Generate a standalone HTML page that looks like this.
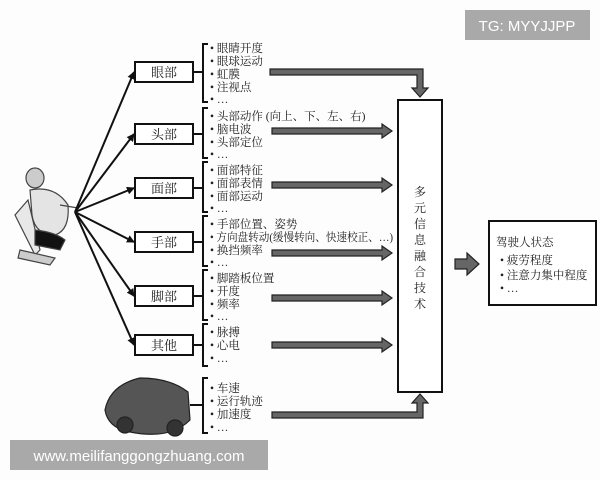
<!DOCTYPE html>
<html><head><meta charset="utf-8"><style>
body{margin:0;background:#fff}
svg{display:block}
text{font-family:"Liberation Serif","Noto Serif CJK SC",serif;fill:#222}
</style></head><body>
<svg width="600" height="480" viewBox="0 0 600 480" xmlns="http://www.w3.org/2000/svg">
<defs>
<marker id="ah" markerWidth="8" markerHeight="8" refX="7" refY="4" orient="auto" markerUnits="userSpaceOnUse"><path d="M0,0 L8,4 L0,8 Z" fill="#111"/></marker>
</defs>
<rect width="600" height="480" fill="#fdfdfd"/>
<!-- driver figure -->
<g stroke="#444" stroke-width="1.2" fill="#ddd">
<path d="M15,215 L28,200 L40,250 L35,255 Z" fill="#e8e8e8"/>
<ellipse cx="35" cy="178" rx="9" ry="10" fill="#ccc"/>
<path d="M30,190 Q55,185 68,205 Q70,230 55,235 Q35,235 32,215 Z" fill="#e4e4e4"/>
<path d="M35,230 Q55,232 65,240 L60,250 L35,245 Z" fill="#111"/>
<path d="M20,250 L55,258 L50,265 L18,258 Z" fill="#ccc"/>
<path d="M60,205 L78,208" />
</g>
<!-- fan lines -->
<g stroke="#111" stroke-width="2" fill="none" marker-end="url(#ah)">
<line x1="75" y1="212" x2="134" y2="72"/>
<line x1="75" y1="212" x2="134" y2="134"/>
<line x1="75" y1="212" x2="134" y2="188"/>
<line x1="75" y1="212" x2="134" y2="242"/>
<line x1="75" y1="212" x2="134" y2="296"/>
<line x1="75" y1="212" x2="134" y2="345"/>
</g>
<!-- label boxes -->
<g fill="#fff" stroke="#111" stroke-width="2">
<rect x="135" y="62" width="58" height="20"/>
<rect x="135" y="124" width="58" height="20"/>
<rect x="135" y="178" width="58" height="20"/>
<rect x="135" y="232" width="58" height="20"/>
<rect x="135" y="286" width="58" height="20"/>
<rect x="135" y="335" width="58" height="20"/>
</g>
<g font-size="13" text-anchor="middle">
<text x="164" y="77">眼部</text><text x="164" y="139">头部</text><text x="164" y="193">面部</text>
<text x="164" y="247">手部</text><text x="164" y="301">脚部</text><text x="164" y="350">其他</text>
</g>
<!-- brackets -->
<g stroke="#111" stroke-width="2" fill="none">
<path d="M193,72 H203 M208,44 H203 V102 H208"/>
<path d="M193,134 H203 M208,108 H203 V158 H208"/>
<path d="M193,188 H203 M208,162 H203 V212 H208"/>
<path d="M193,242 H203 M208,216 H203 V266 H208"/>
<path d="M193,296 H203 M208,270 H203 V320 H208"/>
<path d="M193,345 H203 M208,324 H203 V366 H208"/>
<path d="M190,405 H203 M208,378 H203 V433 H208"/>
</g>
<!-- item text -->
<g font-size="11.5">
<text x="210" y="52">• 眼睛开度</text><text x="210" y="65">• 眼球运动</text><text x="210" y="78">• 虹膜</text><text x="210" y="91">• 注视点</text><text x="210" y="103">• …</text>
<text x="210" y="120">• 头部动作 (向上、下、左、右)</text><text x="210" y="133">• 脑电波</text><text x="210" y="146">• 头部定位</text><text x="210" y="158">• …</text>
<text x="210" y="174">• 面部特征</text><text x="210" y="187">• 面部表情</text><text x="210" y="200">• 面部运动</text><text x="210" y="212">• …</text>
<text x="210" y="228">• 手部位置、姿势</text><text x="210" y="241" textLength="183" lengthAdjust="spacingAndGlyphs">• 方向盘转动(缓慢转向、快速校正、…)</text><text x="210" y="254">• 换挡频率</text><text x="210" y="266">• …</text>
<text x="210" y="282">• 脚踏板位置</text><text x="210" y="295">• 开度</text><text x="210" y="308">• 频率</text><text x="210" y="320">• …</text>
<text x="210" y="336">• 脉搏</text><text x="210" y="349">• 心电</text><text x="210" y="362">• …</text>
<text x="210" y="392">• 车速</text><text x="210" y="405">• 运行轨迹</text><text x="210" y="418">• 加速度</text><text x="210" y="431">• …</text>
</g>
<!-- car -->
<g stroke="#222" stroke-width="1.2">
<path d="M105,410 Q110,385 140,378 Q170,378 188,392 L190,420 Q170,440 130,432 Q108,428 105,410 Z" fill="#555"/>
<circle cx="125" cy="425" r="8" fill="#333"/><circle cx="175" cy="428" r="8" fill="#333"/>
</g>
<!-- thick arrows -->
<g fill="#666" stroke="#222" stroke-width="1.2">
<path d="M270,69 H423 V88 H428 L420,97 L412,88 H417 V75 H270 Z"/>
<path d="M272,128 H382 V124 L392,131 L382,138 V134 H272 Z"/>
<path d="M272,182 H382 V178 L392,185 L382,192 V188 H272 Z"/>
<path d="M272,250 H382 V246 L392,253 L382,260 V256 H272 Z"/>
<path d="M272,295 H382 V291 L392,298 L382,305 V301 H272 Z"/>
<path d="M272,342 H382 V338 L392,345 L382,352 V348 H272 Z"/>
<path d="M272,412 H417 V403 H412 L420,394 L428,403 H423 V418 H272 Z"/>
<path d="M455,259 H467 V253 L479,264 L467,275 V269 H455 Z"/>
</g>
<!-- fusion box -->
<rect x="398" y="100" width="44" height="292" fill="#fff" stroke="#111" stroke-width="2"/>
<g font-size="12" text-anchor="middle">
<text x="420" y="196">多</text><text x="420" y="212">元</text><text x="420" y="228">信</text><text x="420" y="244">息</text><text x="420" y="260">融</text><text x="420" y="276">合</text><text x="420" y="292">技</text><text x="420" y="308">术</text>
</g>
<!-- result box -->
<rect x="489" y="221" width="107" height="84" fill="#fff" stroke="#111" stroke-width="2"/>
<g font-size="11.5">
<text x="496" y="246">驾驶人状态</text>
<text x="500" y="264">• 疲劳程度</text>
<text x="500" y="279">• 注意力集中程度</text>
<text x="500" y="292">• …</text>
</g>
<!-- watermarks -->
<rect x="465" y="10" width="125" height="30" fill="#a9a9a9"/>
<text x="527" y="31" font-size="15" text-anchor="middle" style="font-family:'Liberation Sans',sans-serif;fill:#fff">TG: MYYJJPP</text>
<rect x="10" y="440" width="258" height="30" fill="#a9a9a9"/>
<text x="139" y="461" font-size="15" text-anchor="middle" style="font-family:'Liberation Sans',sans-serif;fill:#fff">www.meilifanggongzhuang.com</text>
</svg>
</body></html>
